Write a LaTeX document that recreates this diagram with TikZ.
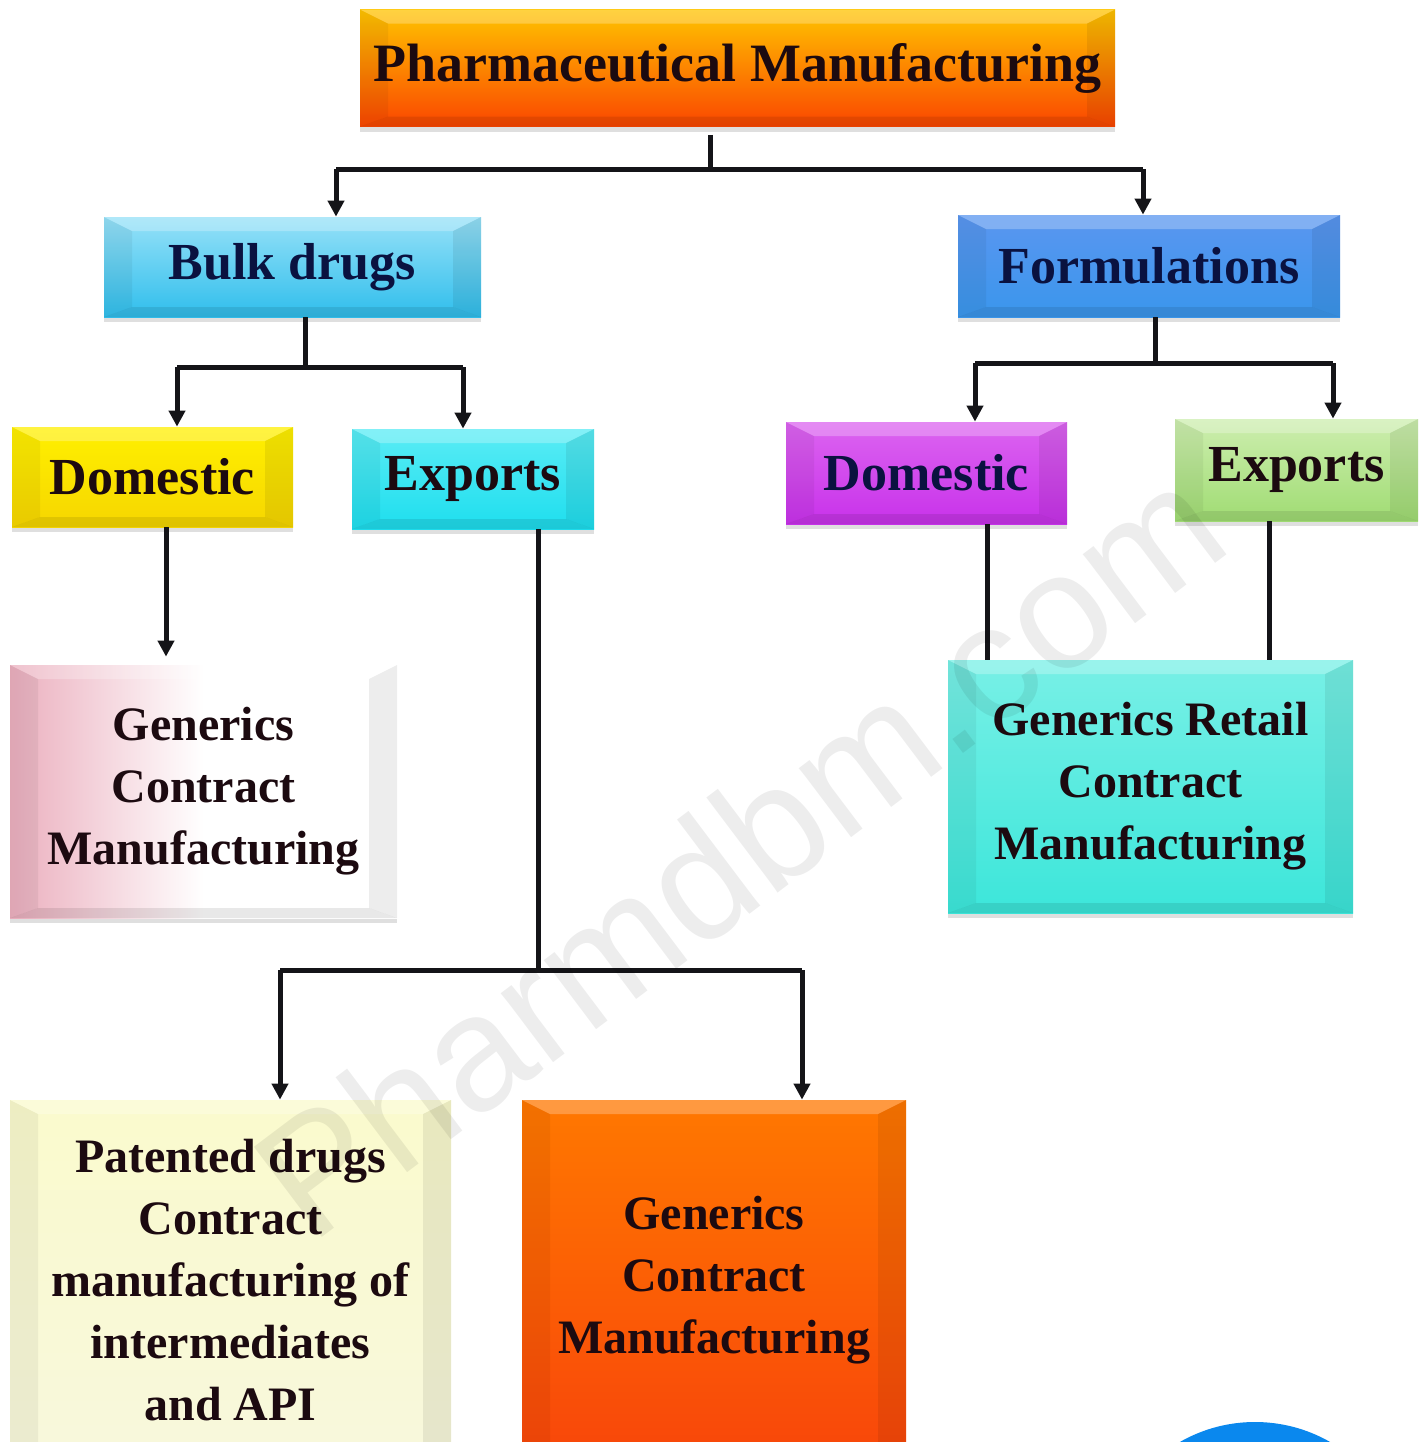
\documentclass[tikz,border=0pt]{standalone}
\usepackage{fontspec}
\setmainfont{Liberation Serif}
\newfontfamily\wmfont{Liberation Sans}
\usetikzlibrary{arrows.meta,shadows}

\definecolor{txt}{HTML}{1C0A10}
\definecolor{navy}{HTML}{0A1240}
\definecolor{lineclr}{HTML}{141418}

\tikzset{
  box/.style={draw=none, align=center, inner sep=0pt, text=txt,
    font=\bfseries\fontsize{26}{31}\selectfont,
    drop shadow={opacity=.25, shadow xshift=0pt, shadow yshift=-2.5pt}},
  bevel/.style={path picture={
    \path (path picture bounding box.north west) coordinate (pnw)
          (path picture bounding box.north east) coordinate (pne)
          (path picture bounding box.south west) coordinate (psw)
          (path picture bounding box.south east) coordinate (pse);
    \fill[white,opacity=.25] (pnw) -- (pne) -- ([shift={(-14pt,-7pt)}]pne) -- ([shift={(14pt,-7pt)}]pnw) -- cycle;
    \fill[black,opacity=.05] (pnw) -- ([shift={(14pt,-7pt)}]pnw) -- ([shift={(14pt,5pt)}]psw) -- (psw) -- cycle;
    \fill[black,opacity=.07] (pne) -- ([shift={(-14pt,-7pt)}]pne) -- ([shift={(-14pt,5pt)}]pse) -- (pse) -- cycle;
    \fill[black,opacity=.09] (psw) -- ([shift={(14pt,5pt)}]psw) -- ([shift={(-14pt,5pt)}]pse) -- (pse) -- cycle;
  }},
  conn/.style={line width=2.5pt, draw=lineclr},
  arr/.style={conn, -{Triangle[length=8pt,width=8pt]}},
  bigtext/.style={font=\bfseries\fontsize{24}{31}\selectfont}
}

\begin{document}
\begin{tikzpicture}[x=0.5pt,y=-0.5pt]
\useasboundingbox (0,0) rectangle (1424,1442);
\clip (0,0) rectangle (1424,1442);
\fill[white] (0,0) rectangle (1424,1442);

% top level
\node[box, bevel, minimum width=377.5pt, minimum height=58.5pt,
  top color={rgb,255:red,255;green,196;blue,0}, middle color={rgb,255:red,255;green,110;blue,16},
  bottom color={rgb,255:red,250;green,70;blue,0}, font=\bfseries\fontsize{27}{31}\selectfont]
  (title) at (737.5,68) {Pharmaceutical Manufacturing};

% second level
\node[box, bevel, minimum width=188.5pt, minimum height=50pt, text=navy,
  top color={rgb,255:red,150;green,225;blue,248}, bottom color={rgb,255:red,48;green,190;blue,236}]
  (bulk) at (292.5,267) {Bulk drugs};
\node[box, bevel, minimum width=191pt, minimum height=51pt, text=navy,
  top color={rgb,255:red,90;green,150;blue,240}, bottom color={rgb,255:red,58;green,150;blue,236}]
  (form) at (1149,266) {Formulations};

% third level
\node[box, bevel, minimum width=140.5pt, minimum height=50pt,
  top color={rgb,255:red,255;green,240;blue,0}, bottom color={rgb,255:red,246;green,214;blue,0}]
  (domL) at (152.5,477) {Domestic};
\node[box, bevel, minimum width=121pt, minimum height=50pt,
  top color={rgb,255:red,90;green,236;blue,245}, bottom color={rgb,255:red,30;green,222;blue,238}]
  (expL) at (473,479) {Exports};
\node[box, bevel, minimum width=140.5pt, minimum height=51pt, text=navy,
  top color={rgb,255:red,220;green,100;blue,240}, bottom color={rgb,255:red,200;green,50;blue,234}]
  (domR) at (926.5,473) {Domestic};
\node[box, bevel, minimum width=121.5pt, minimum height=51pt,
  top color={rgb,255:red,205;green,238;blue,175}, bottom color={rgb,255:red,160;green,220;blue,115}]
  (expR) at (1296.5,470) {Exports};

% leaves
\node[box, bevel, bigtext, minimum width=193.5pt, minimum height=126.5pt,
  left color={rgb,255:red,235;green,175;blue,190}, right color=white, middle color=white,
  shading angle=90]
  (genL) at (203.5,791.5) {Generics\\Contract\\Manufacturing};
\node[box, bevel, bigtext, minimum width=202.5pt, minimum height=126.5pt,
  top color={rgb,255:red,120;green,240;blue,230}, bottom color={rgb,255:red,60;green,230;blue,218}]
  (genR) at (1150.5,786.5) {Generics Retail\\Contract\\Manufacturing};
\node[box, bevel, bigtext, minimum width=220.5pt, minimum height=180pt,
  top color={rgb,255:red,250;green,250;blue,205}, bottom color={rgb,255:red,248;green,248;blue,220}]
  (pat) at (230.5,1280) {Patented drugs\\Contract\\manufacturing of\\intermediates\\and API};
\node[box, bevel, bigtext, minimum width=192pt, minimum height=180pt,
  top color={rgb,255:red,255;green,120;blue,0}, middle color={rgb,255:red,255;green,90;blue,20},
  bottom color={rgb,255:red,248;green,70;blue,10}]
  (genB) at (714,1280) {Generics\\Contract\\Manufacturing};

% bottom corner disc
\fill[fill={rgb,255:red,10;green,136;blue,238}] (1255,1573) circle[radius=75.5pt];

% connectors: title -> bulk / formulations
\coordinate (j1) at (710,169);
\coordinate (j1l) at (336,169);
\coordinate (j1r) at (1143,169);
\draw[conn] ([yshift=-4pt]title.south -| j1) -- (j1);
\draw[conn] (j1l) -- (j1r);
\draw[arr] (j1l) -- (j1l |- bulk.north);
\draw[arr] (j1r) -- (j1r |- form.north);

% bulk -> domestic / exports
\coordinate (j2) at (305,367);
\coordinate (j2l) at (177,367);
\coordinate (j2r) at (463,367);
\draw[conn] (bulk.south -| j2) -- (j2);
\draw[conn] (j2l) -- (j2r);
\draw[arr] (j2l) -- (j2l |- domL.north);
\draw[arr] (j2r) -- (j2r |- expL.north);

% formulations -> domestic / exports
\coordinate (j3) at (1155,363);
\coordinate (j3l) at (975,363);
\coordinate (j3r) at (1333,363);
\draw[conn] (form.south -| j3) -- (j3);
\draw[conn] (j3l) -- (j3r);
\draw[arr] (j3l) -- (j3l |- domR.north);
\draw[arr] (j3r) -- (j3r |- expR.north);

% bulk domestic -> generics
\coordinate (k1) at (166,0);
\draw[arr] (domL.south -| k1) -- ([yshift=4pt]genL.north -| k1);

% bulk exports -> patented / generics
\coordinate (j4) at (538,970);
\coordinate (j4l) at (280,970);
\coordinate (j4r) at (802,970);
\draw[conn] (expL.south -| j4) -- (j4);
\draw[conn] (j4l) -- (j4r);
\draw[arr] (j4l) -- (j4l |- pat.north);
\draw[arr] (j4r) -- (j4r |- genB.north);

% formulations -> generics retail
\coordinate (k2) at (987,0);
\coordinate (k3) at (1269,0);
\draw[conn] (domR.south -| k2) -- (genR.north -| k2);
\draw[conn] (expR.south -| k3) -- (genR.north -| k3);

% watermark
\node[rotate=37, text=black, opacity=.07, font=\wmfont\fontsize{82}{82}\selectfont]
  (wm) at (738,850) {Pharmdbm.com};
\end{tikzpicture}
\end{document}
